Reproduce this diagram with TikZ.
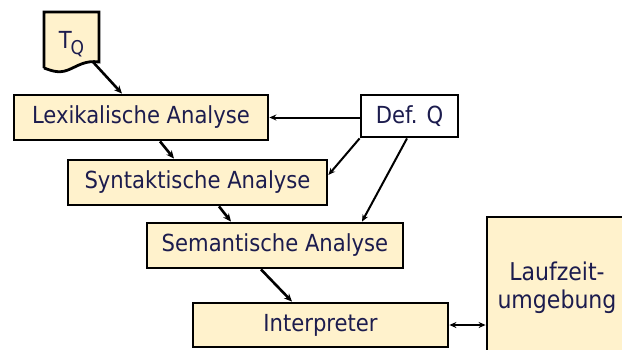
\documentclass[tikz,border=0pt]{standalone}
\usepackage{fontspec}
\setmainfont{DejaVu Sans Condensed}
\usetikzlibrary{arrows.meta}
\definecolor{boxfill}{HTML}{FFF2CC}
\definecolor{ink}{HTML}{1C1C4E}
\tikzset{
  label font/.style={font=\fontsize{23.5}{27}\selectfont},
  stagebox/.style={draw=black, line width=2.8pt, fill=boxfill, text=ink,
    inner sep=0pt, label font},
  flow/.style={line width=2.6pt, -{Stealth[length=8pt,width=7pt]}},
  thin flow/.style={line width=2pt, -{Stealth[length=7pt,width=6pt]}},
}
\begin{document}
\begin{tikzpicture}[x=1pt,y=-1pt]
  \clip (0,0) rectangle (622,349);
  % source document T_Q with a wavy lower edge
  \node[inner sep=0pt, minimum width=55pt, minimum height=56pt] (tq) at (71.5,40) {};
  \fill[boxfill] (44,12) -- (99,12) -- (99,62)
    .. controls (85,60) and (78,66) .. (68,70)
    .. controls (58,74) and (50,70) .. (44,68) -- cycle;
  \draw[line width=2.8pt, line join=miter] (44,68) -- (44,12) -- (99,12) -- (99,62)
    .. controls (85,60) and (78,66) .. (68,70)
    .. controls (58,74) and (50,70) .. (44,68);
  \node at (tq) [text=ink, label font, yshift=-4pt]
    {T\kern-1pt\raisebox{-6pt}{\fontsize{19}{22}\selectfont Q}};
  \coordinate (tqout) at (93,62);

  % processing stages
  \node[stagebox, minimum width=254pt, minimum height=45pt] (lex) at (141,117.5) {Lexikalische Analyse};
  \node[stagebox, minimum width=259pt, minimum height=45pt] (syn) at (197.5,182.5) {Syntaktische Analyse};
  \node[stagebox, minimum width=256pt, minimum height=45pt] (sem) at (275,245.5) {Semantische Analyse};
  \node[stagebox, minimum width=255pt, minimum height=44pt] (int) at (320.5,325) {Interpreter};
  \node[stagebox, minimum width=140pt, minimum height=142pt, align=center,
        font=\fontsize{24.5}{28}\selectfont] (lzu) at (557,288) {Laufzeit-\\umgebung};

  % language definition
  \node[draw=black, line width=2.8pt, fill=white, text=ink, inner sep=0pt,
        minimum width=97pt, minimum height=42pt, label font] (defq) at (409.5,116) {Def. Q};

  % main flow
  \draw[flow] (tqout) -- (lex.north west -| 122,0);
  \draw[flow] (lex.south west -| 160,0) -- (syn.north west -| 174,0);
  \draw[flow] (syn.south west -| 219,0) -- (sem.north west -| 231,0);
  \draw[flow] (sem.south west -| 261,0) -- (int.north west -| 292,0);
  \draw[line width=2.6pt, {Stealth[length=7pt,width=6pt]}-{Stealth[length=7pt,width=6pt]}]
    (int.east) -- (lzu.west |- int.east);

  % definition feeds the analysis stages
  \draw[thin flow] (defq.west |- lex.east) -- (lex.east);
  \draw[thin flow] (defq.south west) -- (syn.east |- 0,175);
  \draw[thin flow] (defq.south -| 407,0) -- (sem.north west -| 362,0);
\end{tikzpicture}
\end{document}
